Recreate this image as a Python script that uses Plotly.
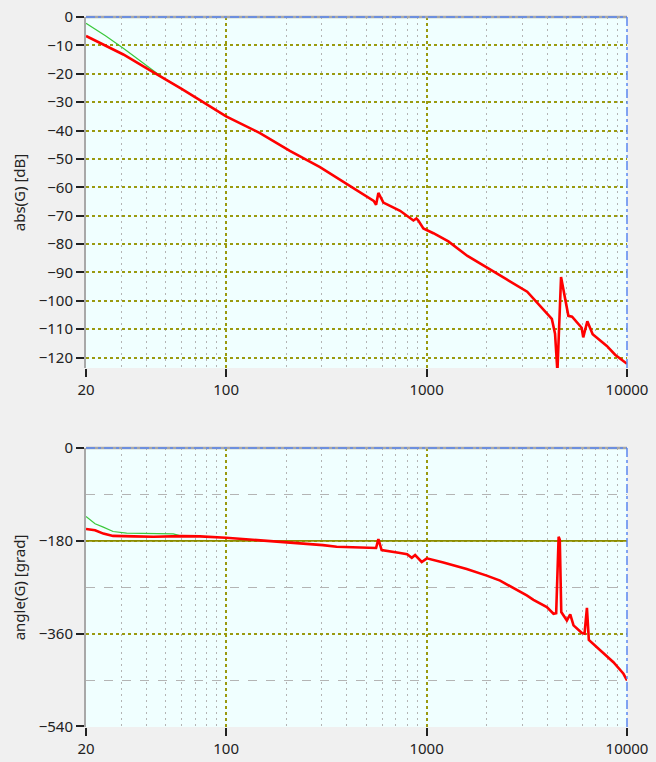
import plotly.graph_objects as go

# ---- data ----
mag_freq = [20, 25, 30.7, 40, 48.4, 60, 74, 100, 147.6, 208, 294, 400, 513, 545, 560, 575, 609,
            738, 860, 890, 910, 964, 1082, 1285, 1600, 2005, 2500, 3177, 3600, 4000, 4217,
            4375, 4496, 4688, 5100, 5320, 5610, 5940, 6050, 6340, 6740, 7340, 7930, 8720, 9420, 10000]
mag_db = [-6.7, -10.0, -13.2, -18.0, -21.4, -25.3, -29.3, -35.0, -40.9, -47.2, -52.9, -58.9, -63.7,
          -64.8, -66.2, -62.0, -65.4, -68.3, -71.7, -71.0, -71.7, -74.5, -76.2, -79.1, -84.2,
          -88.2, -92.4, -96.8, -100.9, -104.3, -106.4, -111.6, -125.0, -91.6, -105.3, -105.6,
          -107.6, -109.5, -112.9, -107.2, -111.8, -113.8, -115.9, -119.0, -120.9, -122.2]

mag_model_freq = [20, 25, 30.7, 40, 48.4, 60]
mag_model_db = [-2.2, -6.6, -11.0, -17.2, -21.4, -25.3]

ph_freq = [20, 22.2, 24.4, 27.3, 34.6, 43.4, 60, 74, 100, 142, 186, 232, 304, 356, 448, 542, 560,
           575, 597, 738, 800, 844, 877, 946, 1003, 1213, 1586, 1996, 2328, 3162, 3415, 3981,
           4298, 4433, 4560, 4620, 4700, 5012, 5209, 5410, 5958, 6140, 6310, 6450, 7343, 8556,
           9600, 10000]
ph_deg = [-157, -159.5, -166, -170.5, -171.5, -172, -171, -171.5, -174, -178.6, -182, -184, -188.3,
          -191.6, -192.7, -194.7, -194, -176.7, -198, -203.5, -206, -213, -207.6, -221, -214,
          -222, -234.6, -247.5, -257.2, -286, -294.4, -308.6, -321.4, -320.2, -172, -178, -318,
          -334.3, -322.7, -344, -358.8, -360, -310, -372, -392.7, -415.3, -437.8, -450.7]

ph_model_freq = [20, 22.2, 24.4, 27.3, 31.9, 54.5, 60]
ph_model_deg = [-133, -147, -153.5, -162, -165, -166.5, -171]

ref_freq = [20, 10000]
ref_deg = [-180, -180]

x_ticks = [20, 100, 1000, 10000]
x_minor = [m * d for d in (10, 100, 1000) for m in range(2, 10) if m * d > 20]
mag_ticks = list(range(0, -130, -10))
ph_ticks = [0, -180, -360, -540]
ph_minor = [-90, -270, -450]

# ---- styling ----
RED = "#FF0000"
GREEN = "#3CC83C"
OLIVE = "#9A9A10"
GRAYGRID = "#B4B4B4"
BLUE = "#5A86F0"
FONT = "Noto Sans"

fig = go.Figure()
fig.add_trace(go.Scatter(x=mag_model_freq, y=mag_model_db, mode="lines",
                         line=dict(color=GREEN, width=1.2), xaxis="x", yaxis="y"))
fig.add_trace(go.Scatter(x=mag_freq, y=mag_db, mode="lines",
                         line=dict(color=RED, width=2.6), xaxis="x", yaxis="y"))
fig.add_trace(go.Scatter(x=ref_freq, y=ref_deg, mode="lines",
                         line=dict(color="#8C8C00", width=1.8), xaxis="x2", yaxis="y2"))
fig.add_trace(go.Scatter(x=ph_model_freq, y=ph_model_deg, mode="lines",
                         line=dict(color=GREEN, width=1.2), xaxis="x2", yaxis="y2"))
fig.add_trace(go.Scatter(x=ph_freq, y=ph_deg, mode="lines",
                         line=dict(color=RED, width=2.6), xaxis="x2", yaxis="y2"))

xcommon = dict(type="log", range=[1.30103, 4.0], tickvals=x_ticks, ticktext=[str(v) for v in x_ticks],
               showgrid=True, gridcolor=OLIVE, griddash="dot", gridwidth=1.5,
               ticks="outside", ticklen=8, tickwidth=2, tickcolor="#222",
               minor=dict(tickvals=x_minor, showgrid=True, gridcolor=GRAYGRID, griddash="2px,4px",
                          gridwidth=1, ticks=""),
               showline=False, zeroline=False, automargin=False,
               tickfont=dict(family=FONT, size=15, color="#222"))
ycommon = dict(showline=True, linecolor="#A8A8A8", linewidth=2, zeroline=False, automargin=False,
               ticks="outside", ticklen=8, tickwidth=1.5, tickcolor="#222",
               showgrid=True, gridcolor=OLIVE, griddash="dot", gridwidth=1.5,
               tickfont=dict(family=FONT, size=15, color="#222"))

TITLEFONT = dict(family=FONT, size=15, color="#222")

fig.update_layout(
    width=656, height=762,
    margin=dict(l=86, r=29, t=17, b=35),
    paper_bgcolor="#F0F0F0", plot_bgcolor="#F0FFFF",
    showlegend=False,
    xaxis=dict(domain=[0, 1], anchor="y", **xcommon),
    yaxis=dict(domain=[0.5056, 1], anchor="x", range=[-123.7, 0], tickvals=mag_ticks,
               title=dict(text="abs(G) [dB]", font=TITLEFONT, standoff=9),
               **ycommon),
    xaxis2=dict(domain=[0, 1], anchor="y2", **xcommon),
    yaxis2=dict(domain=[0, 0.393], anchor="x2", range=[-541, 0], tickvals=ph_ticks,
                minor=dict(tickvals=ph_minor, showgrid=True, gridcolor=GRAYGRID, griddash="dash",
                           gridwidth=1, ticks=""),
                title=dict(text="angle(G) [grad]", font=TITLEFONT, standoff=9),
                **ycommon),
)

shapes = []
for xr, yr in (("x domain", "y domain"), ("x2 domain", "y2 domain")):
    shapes.append(dict(type="line", xref=xr, yref=yr, x0=0, x1=1, y0=1, y1=1,
                       line=dict(color="#A8A8A8", width=2.5)))
    shapes.append(dict(type="line", xref=xr, yref=yr, x0=0, x1=1, y0=1, y1=1,
                       line=dict(color=BLUE, width=1.5, dash="dashdot")))
    shapes.append(dict(type="line", xref=xr, yref=yr, x0=1, x1=1, y0=0, y1=1,
                       line=dict(color=BLUE, width=1.5, dash="dashdot")))
fig.update_layout(shapes=shapes)

fig.write_html("out.html")
